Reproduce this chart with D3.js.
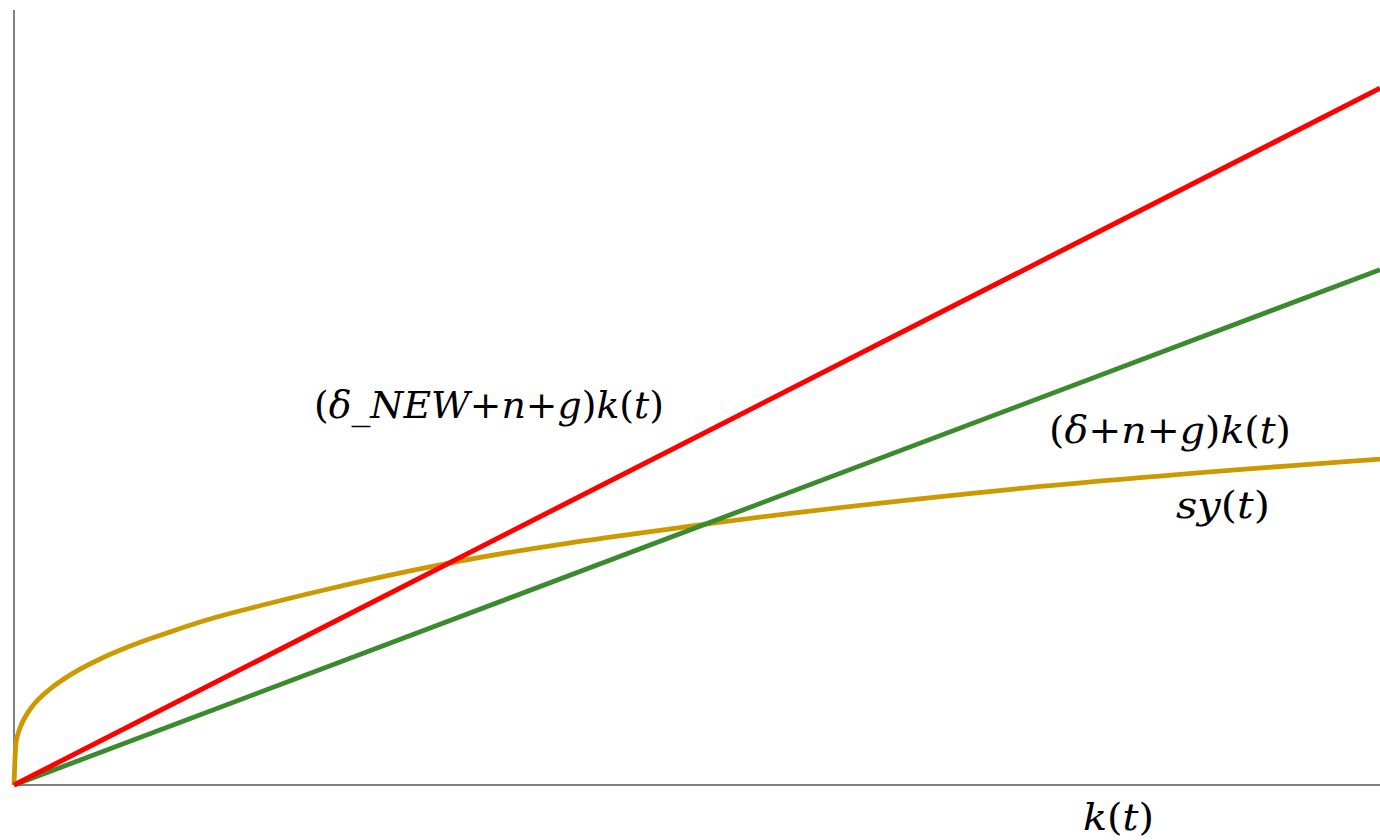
<!DOCTYPE html>
<html>
  <head>
    <title>Solow</title>
    <style>
      body { margin: 0; background: #fff; }
      .axis-line { stroke: #808080; stroke-width: 2px; }
      .lbl { font-family: "DejaVu Serif", serif; font-size: 38px; fill: #000; }
      .lbl .it { font-style: italic; }
    </style>
    <script src="https://d3js.org/d3.v7.min.js"></script>
  </head>
  <body>
    <div id="chart"></div>
    <script type="text/javascript">
      // k(t) on x (x 0..100, y 0..100)
      var kVals     = [0, 100];
      var redVals   = [0, 89.9];   // (delta_NEW+n+g)k(t)
      var greenVals = [0, 66.5];   // (delta+n+g)k(t)
      var sxVals = [0, 0.146, 0.44, 0.95, 1.54, 2.64, 4.10, 6.30, 8.71, 11.20, 13.62, 18.52, 22.40, 31.92, 50.22, 73.21, 100];
      var syVals = [0, 5.42, 7.35, 9.16, 10.58, 12.39, 14.19, 16.26, 18.06, 19.61, 21.03, 23.35, 25.03, 28.65, 33.55, 38.19, 42.06];

      var width = 1380, height = 840;

      var x = d3.scaleLinear().domain([0, 100]).range([14, 1380]);
      var y = d3.scaleLinear().domain([0, 100]).range([785, 10]);

      var svg = d3.select("#chart").append("svg")
        .attr("width", width)
        .attr("height", height);

      // axes, no ticks
      svg.append("line").attr("class", "axis-line")
        .attr("x1", x(0)).attr("x2", x(0)).attr("y1", y(0)).attr("y2", y(100));
      svg.append("line").attr("class", "axis-line")
        .attr("x1", x(0)).attr("x2", x(100)).attr("y1", y(0)).attr("y2", y(0));

      var line = d3.line().x(function(d){ return x(d[0]); }).y(function(d){ return y(d[1]); });

      svg.append("path")
        .datum(d3.zip(sxVals, syVals))
        .attr("d", line.curve(d3.curveMonotoneX))
        .attr("fill", "none").attr("stroke", "#cc9a00").attr("stroke-width", 4.8)
        .attr("stroke-linejoin", "round");

      line.curve(d3.curveLinear);
      svg.append("path")
        .datum(d3.zip(kVals, greenVals))
        .attr("d", line)
        .attr("fill", "none").attr("stroke", "#3b8a2e").attr("stroke-width", 4.8);
      svg.append("path")
        .datum(d3.zip(kVals, redVals))
        .attr("d", line)
        .attr("fill", "none").attr("stroke", "#ff0000").attr("stroke-width", 5);

      // labels: text parts (italic flag), left x, baseline y, width
      function label(parts, px, py, w) {
        var t = svg.append("text").attr("class", "lbl")
          .attr("x", px).attr("y", py)
          .attr("textLength", w).attr("lengthAdjust", "spacingAndGlyphs");
        parts.forEach(function(p){
          t.append("tspan").attr("class", p[1] ? "it" : null).text(p[0]);
        });
      }
      label([["(", 0], ["δ_NEW", 1], ["+", 0], ["n", 1], ["+", 0], ["g", 1], [")", 0], ["k", 1], ["(", 0], ["t", 1], [")", 0]], 314, 418, 350);
      label([["(", 0], ["δ", 1], ["+", 0], ["n", 1], ["+", 0], ["g", 1], [")", 0], ["k", 1], ["(", 0], ["t", 1], [")", 0]], 1049, 443, 242);
      label([["sy", 1], ["(", 0], ["t", 1], [")", 0]], 1176, 518, 94);
      label([["k", 1], ["(", 0], ["t", 1], [")", 0]], 1083, 830, 71);
    </script>
  </body>
</html>
